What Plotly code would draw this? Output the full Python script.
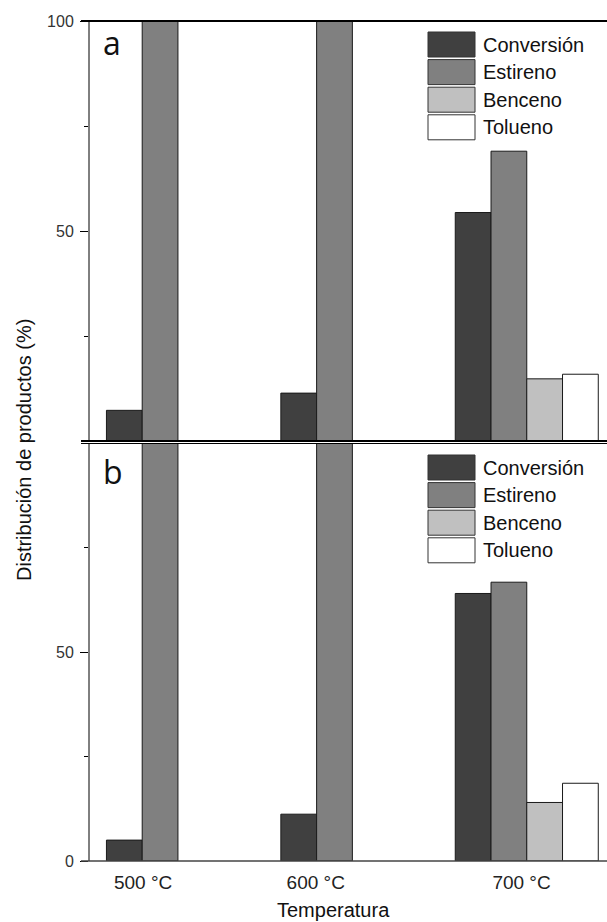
import plotly.graph_objects as go

# ---------------- data ----------------
categories = ["500 °C", "600 °C", "700 °C"]
series_names = ["Conversión", "Estireno", "Benceno", "Tolueno"]

# panel a
a_conversion = [7.3, 11.4, 54.4]
a_estireno = [100, 100, 69.0]
a_benceno = [0, 0, 14.8]
a_tolueno = [0, 0, 15.9]

# panel b
b_conversion = [5.0, 11.2, 64.0]
b_estireno = [100, 100, 66.7]
b_benceno = [0, 0, 14.0]
b_tolueno = [0, 0, 18.6]

panel_a = [a_conversion, a_estireno, a_benceno, a_tolueno]
panel_b = [b_conversion, b_estireno, b_benceno, b_tolueno]

colors = ["#404040", "#808080", "#c0c0c0", "#ffffff"]

W, H = 607, 922
ML, MR, MT, MB = 89, 0, 21, 61
PW, PH = W - ML - MR, H - MT - MB

def px_x(px):
    return (px - ML) / PW

def px_y(py):
    return (H - MB - py) / PH

FONT = "Liberation Sans, Arial, sans-serif"
xpos = list(range(len(categories)))

def outline(vals):
    return [0 if v == 0 else 1 for v in vals]

fig = go.Figure()
for i, name in enumerate(series_names):
    fig.add_trace(go.Bar(
        x=xpos, y=panel_a[i], name=name, xaxis="x2", yaxis="y2",
        marker=dict(color=colors[i], line=dict(color="#1a1a1a", width=outline(panel_a[i]))),
        showlegend=False,
    ))
    fig.add_trace(go.Bar(
        x=xpos, y=panel_b[i], name=name, xaxis="x", yaxis="y",
        marker=dict(color=colors[i], line=dict(color="#1a1a1a", width=outline(panel_b[i]))),
        showlegend=False,
    ))

tick_offsets = [-0.2, -0.21, -0.03]
xrange = [-0.51, 2.46]

fig.update_layout(
    width=W, height=H,
    margin=dict(l=ML, r=MR, t=MT, b=MB),
    paper_bgcolor="white", plot_bgcolor="white",
    barmode="group", bargap=0.18, bargroupgap=0,
    showlegend=False,
    font=dict(family=FONT, color="#222"),
    xaxis=dict(
        domain=[0, 1], anchor="y", range=xrange,
        tickvals=[p + o for p, o in zip(xpos, tick_offsets)],
        ticktext=categories,
        ticks="", ticklabelstandoff=8,
        tickfont=dict(size=19, color="#222", family=FONT),
        showgrid=False, zeroline=False, showline=False,
    ),
    xaxis2=dict(
        domain=[0, 1], anchor="y2", range=xrange,
        showticklabels=False, ticks="",
        showgrid=False, zeroline=False, showline=False,
    ),
    yaxis=dict(
        domain=[0, px_y(443)], anchor="x", range=[0, 100],
        tickvals=[0, 50], ticks="outside", ticklen=8, tickcolor="black",
        minor=dict(tickvals=[25, 75], ticks="outside", ticklen=4, tickcolor="black", showgrid=False),
        tickfont=dict(size=16, color="#333", family=FONT),
        ticklabelstandoff=3,
        showgrid=False, zeroline=False, showline=False,
    ),
    yaxis2=dict(
        domain=[px_y(441), 1], anchor="x2", range=[0, 100],
        tickvals=[50, 100], ticks="outside", ticklen=8, tickcolor="black",
        minor=dict(tickvals=[25, 75], ticks="outside", ticklen=4, tickcolor="black", showgrid=False),
        tickfont=dict(size=16, color="#333", family=FONT),
        ticklabelstandoff=3,
        showgrid=False, zeroline=False, showline=False,
    ),
)

shapes = []
# left axis lines of both panels
for y_top, y_bot in [(21, 441), (443.5, 861)]:
    shapes.append(dict(type="line", xref="paper", yref="paper",
                       x0=0, x1=0, y0=px_y(y_bot), y1=px_y(y_top),
                       line=dict(color="black", width=1)))
# horizontal frame lines extending left of the y axis
for py, lw, col in [(21, 2, "black"), (441, 2, "black"), (443.5, 1, "black"), (861, 1.5, "#444")]:
    shapes.append(dict(type="line", xref="paper", yref="paper",
                       x0=px_x(81), x1=1, y0=px_y(py), y1=px_y(py),
                       line=dict(color=col, width=lw)))

annotations = []
# legends drawn in both panels
for top in [32, 455]:
    for i, name in enumerate(series_names):
        y0 = top + i * 27.6
        shapes.append(dict(type="rect", xref="paper", yref="paper",
                           x0=px_x(428), x1=px_x(475), y0=px_y(y0 + 25), y1=px_y(y0),
                           fillcolor=colors[i], line=dict(color="#333", width=1)))
        annotations.append(dict(text=name, xref="paper", yref="paper",
                                x=px_x(481), y=px_y(y0 + 12.5), xanchor="left", yanchor="middle",
                                showarrow=False, font=dict(size=20, color="#111", family=FONT)))

# panel letters
annotations.append(dict(text="a", xref="paper", yref="paper", x=px_x(112), y=px_y(42),
                        xanchor="center", yanchor="middle", showarrow=False,
                        font=dict(size=32, color="#111", family="Open Sans")))
annotations.append(dict(text="b", xref="paper", yref="paper", x=px_x(113), y=px_y(471),
                        xanchor="center", yanchor="middle", showarrow=False,
                        font=dict(size=32, color="#111", family="Open Sans")))
# axis titles
annotations.append(dict(text="Distribución de productos (%)", xref="paper", yref="paper",
                        x=px_x(24), y=px_y(450), xanchor="center", yanchor="middle",
                        textangle=-90, showarrow=False,
                        font=dict(size=20, color="#111", family=FONT)))
annotations.append(dict(text="Temperatura", xref="paper", yref="paper",
                        x=px_x(333), y=px_y(910), xanchor="center", yanchor="middle",
                        showarrow=False, font=dict(size=20, color="#111", family=FONT)))

fig.update_layout(shapes=shapes, annotations=annotations)
fig.write_html("out.html", config={"staticPlot": True})
